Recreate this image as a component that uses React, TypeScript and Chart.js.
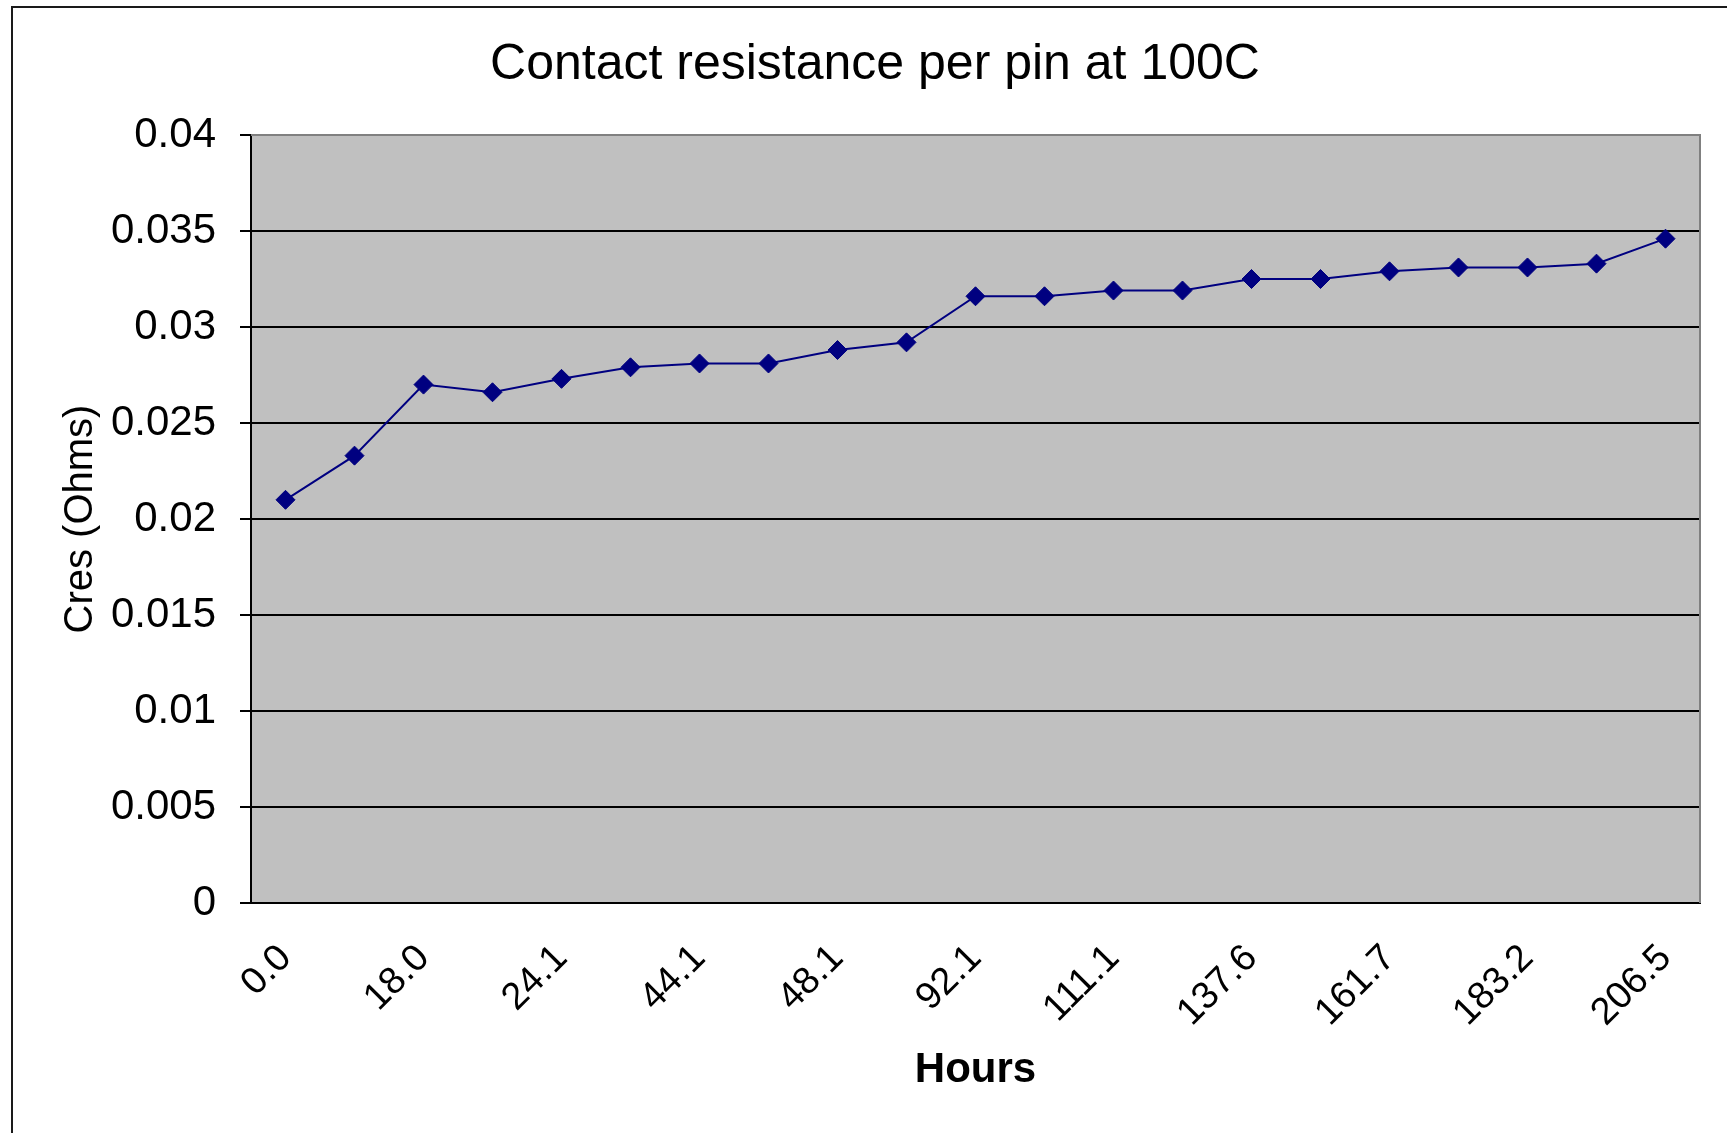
import React, { useEffect, useRef } from 'react';
import { Chart, registerables } from 'chart.js';

Chart.register(...registerables);

const FONT = "'Liberation Sans', Arial, sans-serif";

const chartTitle = 'Contact resistance per pin at 100C';
const xAxisTitle = 'Hours';
const yAxisTitle = 'Cres (Ohms)';

const hourLabels = [
  '0.0', '4.0', '18.0', '20.1', '24.1', '28.1', '44.1', '46.1', '48.1', '68.1', '92.1',
  '96.1', '111.1', '115.1', '137.6', '141.6', '161.7', '165.7', '183.2', '187.2', '206.5',
];
const cresValues = [
  0.0210, 0.0233, 0.0270, 0.0266, 0.0273, 0.0279, 0.0281, 0.0281, 0.0288, 0.0292, 0.0316,
  0.0316, 0.0319, 0.0319, 0.0325, 0.0325, 0.0329, 0.0331, 0.0331, 0.0333, 0.0346,
];
const yTickLabels = ['0', '0.005', '0.01', '0.015', '0.02', '0.025', '0.03', '0.035', '0.04'];

const W = 1727;
const H = 1133;

const decorPlugin = {
  id: 'decor',
  beforeDraw(chart: any) {
    const { ctx, chartArea } = chart;
    ctx.save();
    ctx.fillStyle = '#ffffff';
    ctx.fillRect(0, 0, W, H);
    ctx.strokeStyle = '#1a1a1a';
    ctx.lineWidth = 2;
    ctx.beginPath();
    ctx.moveTo(12, H + 5);
    ctx.lineTo(12, 7);
    ctx.lineTo(W + 5, 7);
    ctx.stroke();
    ctx.fillStyle = '#c0c0c0';
    ctx.fillRect(chartArea.left, chartArea.top, chartArea.right - chartArea.left, chartArea.bottom - chartArea.top);
    ctx.restore();
  },
  beforeDatasetsDraw(chart: any) {
    const { ctx, chartArea } = chart;
    ctx.save();
    ctx.strokeStyle = '#808080';
    ctx.lineWidth = 2;
    ctx.beginPath();
    ctx.moveTo(chartArea.left, chartArea.top);
    ctx.lineTo(chartArea.right, chartArea.top);
    ctx.lineTo(chartArea.right, chartArea.bottom);
    ctx.stroke();
    ctx.restore();
  },
  afterDraw(chart: any) {
    const { ctx } = chart;
    ctx.save();
    ctx.fillStyle = '#000';
    ctx.font = `50px ${FONT}`;
    ctx.textAlign = 'center';
    ctx.textBaseline = 'middle';
    ctx.fillText(chartTitle, 875, 65);
    ctx.restore();
  },
};

export default function App() {
  const ref = useRef<HTMLCanvasElement | null>(null);

  useEffect(() => {
    if (!ref.current) return;
    const chart = new Chart(ref.current, {
      type: 'line',
      data: {
        labels: hourLabels,
        datasets: [
          {
            label: 'Cres',
            data: cresValues,
            borderColor: '#000080',
            backgroundColor: '#000080',
            borderWidth: 2,
            pointStyle: 'rectRot',
            pointRadius: 9.5,
            pointBorderWidth: 1,
            pointBackgroundColor: '#000080',
            pointBorderColor: '#000080',
            tension: 0,
            fill: false,
          },
        ],
      },
      options: {
        animation: false,
        responsive: false,
        events: [],
        layout: { padding: { top: 135, right: 27, left: 0, bottom: 0 } },
        plugins: {
          legend: { display: false },
          title: { display: false },
          tooltip: { enabled: false },
        },
        scales: {
          x: {
            type: 'category',
            offset: true,
            grid: { display: false, drawTicks: false },
            border: { display: true, color: '#000', width: 2 },
            ticks: {
              autoSkip: false,
              maxRotation: 45,
              minRotation: 45,
              padding: 33,
              labelOffset: 0,
              color: '#000',
              font: { family: FONT, size: 38 },
              callback: (_v: any, i: number) => (i % 2 === 0 ? hourLabels[i] : ''),
            },
            title: {
              display: true,
              text: xAxisTitle,
              color: '#000',
              font: { family: FONT, size: 42, weight: 'bold' },
              padding: { top: 0, bottom: 37 },
            },
            afterFit: (scale: any) => {
              scale.height = H - 903;
              scale.paddingRight = 0;
              scale.paddingLeft = 0;
            },
          },
          y: {
            min: 0,
            max: 0.04,
            ticks: {
              stepSize: 0.005,
              padding: 24,
              color: '#000',
              font: { family: FONT, size: 42 },
              callback: (v: any, i: number) => yTickLabels[i] ?? String(v),
            },
            grid: {
              color: (c: any) => (c.tick && c.tick.value >= 0.04 ? '#808080' : '#000'),
              tickColor: '#000',
              lineWidth: 2,
              tickLength: 11,
              drawTicks: true,
            },
            border: { display: true, color: '#000', width: 2 },
            title: {
              display: true,
              text: yAxisTitle,
              color: '#000',
              font: { family: FONT, size: 40 },
              padding: { top: 57, bottom: 0 },
            },
            afterFit: (scale: any) => {
              scale.width = 251;
            },
          },
        },
      },
      plugins: [decorPlugin],
    });
    return () => chart.destroy();
  }, []);

  return (
    <div style={{ position: 'absolute', left: 0, top: 0, width: W, height: H, overflow: 'hidden', background: '#fff' }}>
      <canvas ref={ref} width={W} height={H} style={{ display: 'block', width: W, height: H }} />
    </div>
  );
}
